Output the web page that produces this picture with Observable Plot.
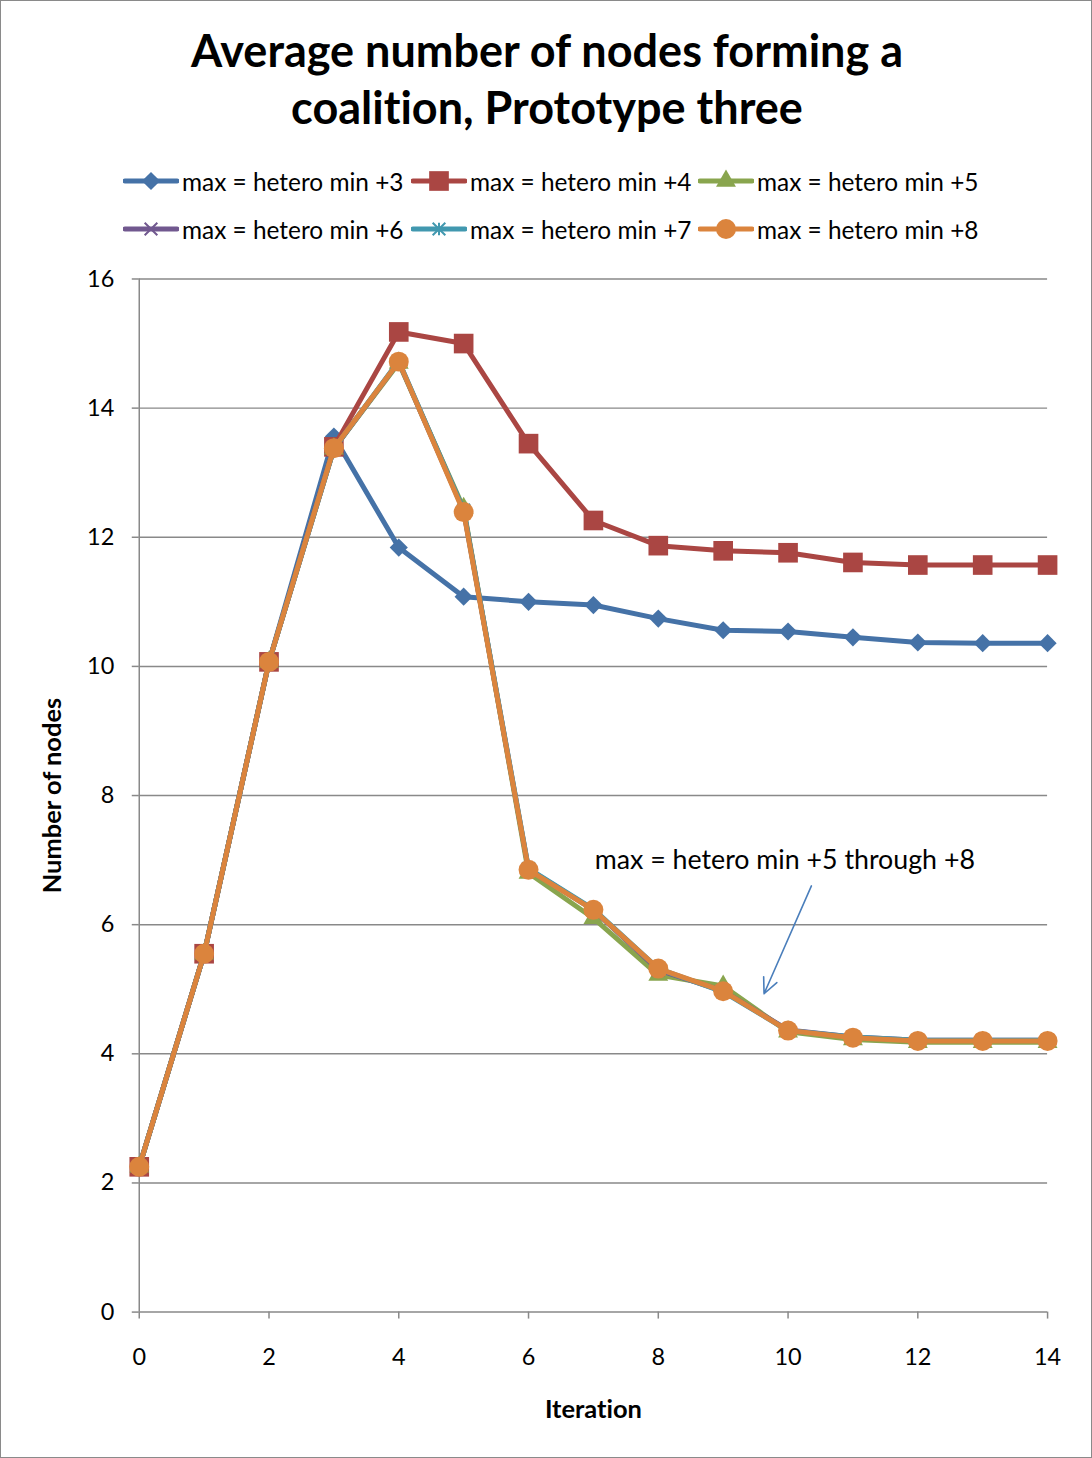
<!DOCTYPE html>
<html>
<head>
<meta charset="utf-8">
<script src="https://cdn.jsdelivr.net/npm/d3@7"></script>
<script src="https://cdn.jsdelivr.net/npm/@observablehq/plot@0.6"></script>
<style>
  html, body { margin: 0; padding: 0; background: #fff; }
  #chart {
    position: relative; width: 1092px; height: 1458px;
    box-sizing: border-box; border: 1px solid #8a8a8a; overflow: hidden;
    font-family: Lato, "Open Sans", sans-serif; color: #000;
    font-variant-ligatures: none;
  }
  #chart svg { font-variant-ligatures: none; }
  #chart > svg { position: absolute; left: -1px; top: -1px; }
  #title {
    position: absolute; left: 0; top: 21px; width: 1092px; text-align: center;
    font-weight: bold; font-size: 45px; line-height: 57px;
  }
  .leg { position: absolute; display: flex; align-items: center; font-size: 24.4px; white-space: nowrap; }
  .leg svg { display: block; margin-right: 3px; }
</style>
</head>
<body>
<div id="chart">
  <div id="title">Average number of nodes forming a<br>coalition, Prototype three</div>
</div>
<script>
// Average coalition size per iteration, one array per max/min setting
const iterations = [0, 1, 2, 3, 4, 5, 6, 7, 8, 9, 10, 11, 12, 13, 14];
const plus3 = [2.25, 5.55, 10.07, 13.56, 11.84, 11.08, 11.00, 10.95, 10.74, 10.56, 10.54, 10.45, 10.37, 10.36, 10.36];
const plus4 = [2.25, 5.55, 10.07, 13.40, 15.18, 15.00, 13.45, 12.26, 11.87, 11.79, 11.76, 11.61, 11.57, 11.57, 11.57];
const plus5 = [2.25, 5.55, 10.07, 13.37, 14.70, 12.45, 6.80, 6.10, 5.22, 5.05, 4.34, 4.22, 4.18, 4.18, 4.18];
const plus6 = [2.25, 5.55, 10.07, 13.37, 14.72, 12.41, 6.86, 6.23, 5.30, 4.97, 4.37, 4.26, 4.21, 4.21, 4.21];
const plus7 = [2.25, 5.55, 10.07, 13.37, 14.73, 12.42, 6.87, 6.24, 5.32, 4.96, 4.36, 4.26, 4.21, 4.21, 4.21];
const plus8 = [2.25, 5.55, 10.07, 13.38, 14.72, 12.39, 6.85, 6.23, 5.32, 4.97, 4.36, 4.25, 4.20, 4.20, 4.20];

const seriesNames = ["max = hetero min +3", "max = hetero min +4", "max = hetero min +5",
                     "max = hetero min +6", "max = hetero min +7", "max = hetero min +8"];
const seriesValues = [plus3, plus4, plus5, plus6, plus7, plus8];
const seriesColors = ["#4572a7", "#aa4643", "#89a54e", "#71588f", "#4198af", "#db843d"];

const xTicks = [0, 2, 4, 6, 8, 10, 12, 14];
const yTicks = [0, 2, 4, 6, 8, 10, 12, 14, 16];
const annotation = "max = hetero min +5 through +8";

// Excel-style "star": an X with a vertical bar
const starSymbol = {
  draw(ctx, size) {
    const r = Math.sqrt(size) * 0.42;
    ctx.moveTo(-r, -r); ctx.lineTo(r, r);
    ctx.moveTo(-r, r); ctx.lineTo(r, -r);
    ctx.moveTo(0, -r); ctx.lineTo(0, r);
  }
};
const timesSymbol = {
  draw(ctx, size) {
    const r = Math.sqrt(size) * 0.42;
    ctx.moveTo(-r, -r); ctx.lineTo(r, r);
    ctx.moveTo(-r, r); ctx.lineTo(r, -r);
  }
};
const markers = [
  {symbol: "diamond2", r: 8.2, filled: true},
  {symbol: "square", r: 11.1, filled: true},
  {symbol: "triangle", r: 7.4, filled: true},
  {symbol: timesSymbol, r: 8.5, filled: false},
  {symbol: starSymbol, r: 8.5, filled: false},
  {symbol: "circle", r: 10, filled: true}
];

const rows = seriesNames.map((name, i) =>
  iterations.map((it, j) => ({series: name, iteration: it, value: seriesValues[i][j]})));

const gridColor = "#898989";
const marks = [
  Plot.gridY(yTicks.filter(d => d > 0), {stroke: gridColor, strokeOpacity: 1, strokeWidth: 1.5}),
  Plot.ruleY([0], {stroke: gridColor, strokeWidth: 1.5}),
  Plot.ruleX([0], {stroke: gridColor, strokeWidth: 1.5}),
  Plot.axisY({ticks: yTicks, tickSize: 7, tickPadding: 18, stroke: gridColor, strokeWidth: 1.5,
              fontSize: 23.5, label: null}),
  Plot.axisX({ticks: xTicks, tickSize: 7, tickPadding: 29, stroke: gridColor, strokeWidth: 1.5,
              fontSize: 23.5, label: null}),
  Plot.text(["Number of nodes"], {frameAnchor: "left", dx: -87, rotate: -90, textAnchor: "middle",
              lineAnchor: "middle", fontWeight: "bold", fontSize: 25.5, fill: "#000"}),
  Plot.text(["Iteration"], {frameAnchor: "bottom", dy: 98, textAnchor: "middle",
              lineAnchor: "middle", fontWeight: "bold", fontSize: 25.5, fill: "#000"})
];

rows.forEach((data, i) => {
  const m = markers[i];
  marks.push(Plot.line(data, {x: "iteration", y: "value", stroke: seriesColors[i], strokeWidth: 5,
                              strokeLinejoin: "round", strokeLinecap: "round"}));
  marks.push(Plot.dot(data, {x: "iteration", y: "value", symbol: () => m.symbol, r: m.r,
                             fill: m.filled ? seriesColors[i] : "none",
                             stroke: m.filled ? "none" : seriesColors[i],
                             strokeWidth: m.filled ? 0 : 2}));
});

// Annotation for the group of overlapping series
marks.push(Plot.text([annotation], {x: 9.95, y: 6.99, fontSize: 26.8, fill: "#000", lineAnchor: "middle"}));
marks.push(Plot.arrow([{x1: 10.36, y1: 6.6, x2: 9.63, y2: 4.93}],
  {x1: "x1", y1: "y1", x2: "x2", y2: "y2", stroke: "#4a7ebb", strokeWidth: 1.6, headLength: 16, headAngle: 50}));

const chart = Plot.plot({
  width: 1092, height: 1458,
  marginLeft: 139, marginRight: 43, marginTop: 279, marginBottom: 144,
  x: {domain: [0, 14]},
  y: {domain: [0, 16]},
  symbol: {type: "identity"},
  style: {fontFamily: "Lato, 'Open Sans', sans-serif", color: "#000", background: "transparent", overflow: "visible"},
  marks
});
const host = document.getElementById("chart");
host.appendChild(chart);

// Legend: two rows of line-with-marker swatches
const legendPos = [[122, 181], [410, 181], [697, 181], [122, 229], [410, 229], [697, 229]];
seriesNames.forEach((name, i) => {
  const m = markers[i];
  const item = document.createElement("div");
  item.className = "leg";
  item.style.left = legendPos[i][0] + "px";
  item.style.top = (legendPos[i][1] - 16) + "px";
  item.style.height = "30px";
  const svg = d3.create("svg").attr("width", 56).attr("height", 30);
  svg.append("line").attr("x1", 2).attr("x2", 54).attr("y1", 15).attr("y2", 15)
    .attr("stroke", seriesColors[i]).attr("stroke-width", 5).attr("stroke-linecap", "round");
  const sym = typeof m.symbol === "string"
    ? {diamond2: d3.symbolDiamond2, square: d3.symbolSquare, triangle: d3.symbolTriangle, circle: d3.symbolCircle}[m.symbol]
    : m.symbol;
  svg.append("path").attr("transform", "translate(28,15)")
    .attr("d", d3.symbol(sym, m.r * m.r * Math.PI)())
    .attr("fill", m.filled ? seriesColors[i] : "none")
    .attr("stroke", m.filled ? "none" : seriesColors[i]).attr("stroke-width", 2);
  item.appendChild(svg.node());
  const label = document.createElement("span");
  label.textContent = name;
  item.appendChild(label);
  host.appendChild(item);
});
</script>
</body>
</html>
